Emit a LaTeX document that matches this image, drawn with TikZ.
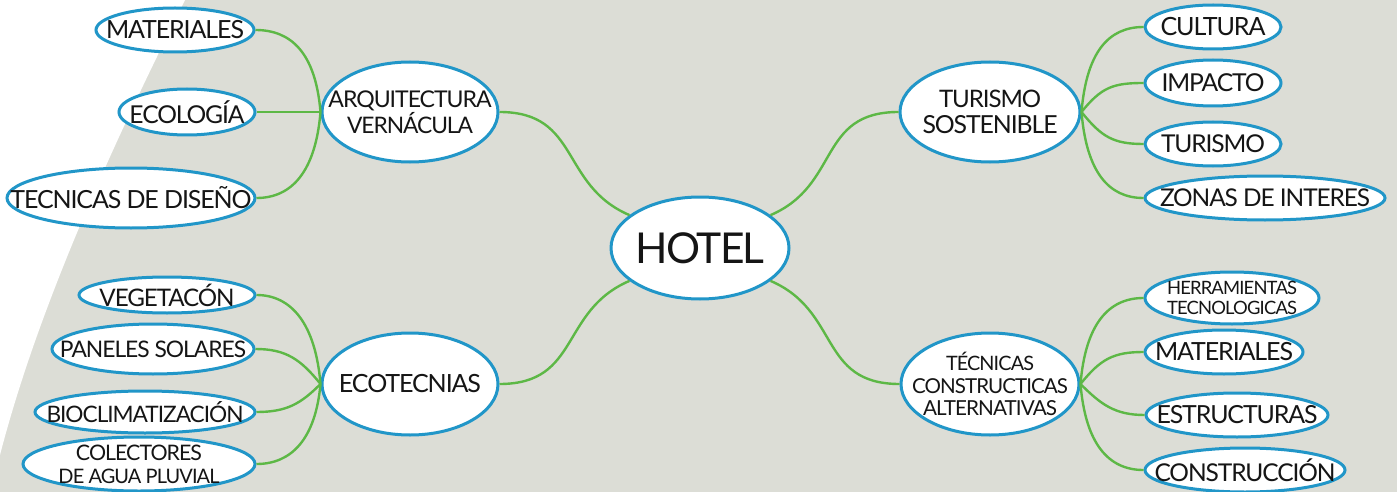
\documentclass[tikz,border=0pt]{standalone}
\usepackage{fontspec}
\setmainfont{Lato}[LetterSpace=-4.5]
\usepackage{graphicx}
\usetikzlibrary{shapes.geometric}
\definecolor{bgc}{HTML}{DCDDD6}
\definecolor{ringc}{HTML}{2196C8}
\definecolor{linkc}{HTML}{5DB846}
\definecolor{inkc}{HTML}{151515}
\newcommand{\fw}[2]{\resizebox{#1pt}{!}{#2}}
\tikzset{
  bubble/.style={ellipse, draw=ringc, line width=1.5pt, fill=white, inner sep=0pt},
  word/.style={align=center, text=inkc, inner sep=0pt},
  linkline/.style={draw=linkc, line width=1.2pt},
}
\begin{document}
\begin{tikzpicture}[x=0.5pt, y=-0.5pt]
\useasboundingbox (0,0) rectangle (1397,492);
\fill[bgc] (0,0) rectangle (1397,492);
\fill[white] (0,0) -- (185,0) .. controls (120,130) and (40,300) .. (0,455) -- cycle;

% nodes
\node[bubble, minimum width=89pt, minimum height=51pt, label={[word]center:\fw{64.5}{HOTEL}}] (hotel) at (700,248) {};

\node[bubble, minimum width=88pt, minimum height=50pt, label={[word, font=\fontsize{9}{12}\selectfont]center:\fw{81.5}{ARQUITECTURA}\\\fw{63}{VERNÁCULA}}] (arq) at (410,112) {};
\node[bubble, minimum width=79pt, minimum height=22pt, label={[word]center:\fw{69}{MATERIALES}}] (matl) at (175,30) {};
\node[bubble, minimum width=68pt, minimum height=23pt, label={[word]center:\fw{57.5}{ECOLOGÍA}}] (ecol) at (187,112) {};
\node[bubble, minimum width=124pt, minimum height=30pt, label={[word]center:\fw{120.5}{TECNICAS DE DISEÑO}}] (tdd) at (131,198) {};

\node[bubble, minimum width=88pt, minimum height=51pt, label={[word]center:\fw{71}{ECOTECNIAS}}] (ecot) at (410,384) {};
\node[bubble, minimum width=88pt, minimum height=18pt, label={[word]center:\fw{67.5}{VEGETACÓN}}] (veg) at (167,295) {};
\node[bubble, minimum width=101pt, minimum height=25pt, label={[word]center:\fw{93}{PANELES SOLARES}}] (pan) at (153,349) {};
\node[bubble, minimum width=110pt, minimum height=21pt, label={[word]center:\fw{98.5}{BIOCLIMATIZACIÓN}}] (bio) at (145,412) {};
\node[bubble, minimum width=116pt, minimum height=27pt, label={[word, font=\fontsize{8}{11.5}\selectfont]center:\fw{63}{COLECTORES}\\\fw{80.5}{DE AGUA PLUVIAL}}] (col) at (139,464) {};

\node[bubble, minimum width=90pt, minimum height=50pt, label={[word, font=\fontsize{9}{13}\selectfont]center:\fw{51}{TURISMO}\\\fw{67.5}{SOSTENIBLE}}] (tur) at (990,112) {};
\node[bubble, minimum width=68pt, minimum height=22pt, label={[word]center:\fw{52.5}{CULTURA}}] (cul) at (1213,27) {};
\node[bubble, minimum width=68pt, minimum height=23pt, label={[word]center:\fw{51.5}{IMPACTO}}] (imp) at (1213,83) {};
\node[bubble, minimum width=68pt, minimum height=22pt, label={[word]center:\fw{52}{TURISMO}}] (tus) at (1213,144) {};
\node[bubble, minimum width=120pt, minimum height=22pt, label={[word]center:\fw{105}{ZONAS DE INTERES}}] (zon) at (1265,198) {};

\node[bubble, minimum width=89pt, minimum height=51pt, label={[word, font=\fontsize{8}{11.25}\selectfont]center:\fw{44}{TÉCNICAS}\\\fw{78}{CONSTRUCTICAS}\\\fw{67}{ALTERNATIVAS}}] (tec) at (990,384) {};
\node[bubble, minimum width=87pt, minimum height=26pt, label={[word, font=\fontsize{7}{10}\selectfont]center:\fw{65}{HERRAMIENTAS}\\\fw{65}{TECNOLOGICAS}}] (her) at (1232,298) {};
\node[bubble, minimum width=79pt, minimum height=22pt, label={[word]center:\fw{69}{MATERIALES}}] (matr) at (1224,352) {};
\node[bubble, minimum width=91pt, minimum height=22pt, label={[word]center:\fw{80.5}{ESTRUCTURAS}}] (est) at (1237,415) {};
\node[bubble, minimum width=100pt, minimum height=22pt, label={[word]center:\fw{90.5}{CONSTRUCCIÓN}}] (con) at (1245,470) {};

% connectors
\draw[linkline] (hotel.155) .. controls +(-70,-30) and +(81,0) .. (arq.east);
\draw[linkline] (hotel.25) .. controls +(70,-30) and +(-81,0) .. (tur.west);
\draw[linkline] (hotel.205) .. controls +(-70,30) and +(81,0) .. (ecot.east);
\draw[linkline] (hotel.335) .. controls +(70,30) and +(-81,0) .. (tec.west);

\draw[linkline] (arq.west) .. controls +(-5,-60) and +(35,0) .. (matl.east);
\draw[linkline] (arq.west) -- (ecol.east);
\draw[linkline] (arq.west) .. controls +(-5,60) and +(35,0) .. (tdd.east);

\draw[linkline] (ecot.west) .. controls +(-5,-60) and +(35,0) .. (veg.east);
\draw[linkline] (ecot.west) .. controls +(-20,-25) and +(30,0) .. (pan.east);
\draw[linkline] (ecot.west) .. controls +(-20,20) and +(30,0) .. (bio.east);
\draw[linkline] (ecot.west) .. controls +(-5,55) and +(35,0) .. (col.east);

\draw[linkline] (tur.east) .. controls +(5,-60) and +(-35,0) .. (cul.west);
\draw[linkline] (tur.east) .. controls +(20,-25) and +(-30,0) .. (imp.west);
\draw[linkline] (tur.east) .. controls +(20,25) and +(-30,0) .. (tus.west);
\draw[linkline] (tur.east) .. controls +(5,60) and +(-35,0) .. (zon.west);

\draw[linkline] (tec.east) .. controls +(5,-60) and +(-35,0) .. (her.west);
\draw[linkline] (tec.east) .. controls +(20,-25) and +(-30,0) .. (matr.west);
\draw[linkline] (tec.east) .. controls +(20,20) and +(-30,0) .. (est.west);
\draw[linkline] (tec.east) .. controls +(5,60) and +(-35,0) .. (con.west);
\end{tikzpicture}
\end{document}
